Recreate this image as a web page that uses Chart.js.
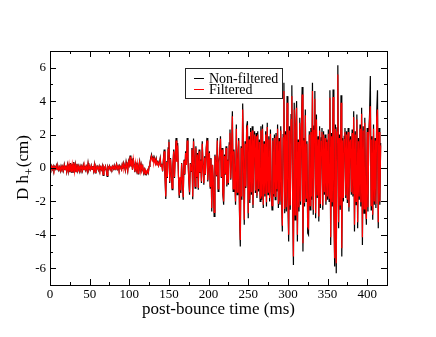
<!DOCTYPE html>
<html>
<head>
<meta charset="utf-8">
<script src="https://cdn.jsdelivr.net/npm/chart.js@4/dist/chart.umd.min.js"></script>
<style>
html,body{margin:0;padding:0;background:#fff;}
#wrap{width:436px;height:337px;position:relative;}
</style>
</head>
<body>
<div id="wrap"><canvas id="c" width="436" height="337"></canvas></div>
<script>
// sampling of the time series (ms)
const startMs = 0;
const stepMs = 1;

const nonFiltered = [
0.05,-0.1,0.12,-0.08,0.1,-0.15,0.08,-0.05,0.15,-0.1,
0.1,-0.12,0.05,-0.18,0.12,-0.05,0.1,-0.15,0.2,-0.1,
0.15,-0.22,0.18,-0.2,0.25,-0.25,0.3,-0.28,0.22,-0.3,
0.35,-0.25,0.2,-0.22,0.25,-0.15,0.1,-0.18,0.12,-0.08,
0.1,-0.15,0.18,-0.1,0.15,-0.12,0.08,-0.2,0.28,-0.12,
0.05,-0.1,0.15,-0.08,0.12,-0.18,0.2,-0.3,0.1,-0.05,
0.08,-0.12,0.1,-0.15,0.05,-0.1,0.12,-0.45,0.05,-0.08,
0.1,-0.15,-0.5,0.08,-0.05,0.12,-0.1,0.05,-0.08,0.1,
-0.05,0.15,-0.1,0.08,0.25,-0.05,0.1,-0.12,0.15,0.05,
-0.1,0.2,-0.05,0.3,0.1,-0.15,0.35,0.05,-0.2,0.4,
0.2,0.75,0.1,0.55,-0.1,0.6,0.2,-0.25,0.35,-0.1,
0.3,-0.35,0.15,0.4,-0.2,0.2,-0.1,0.1,-0.3,-0.1,
-0.4,-0.2,-0.35,-0.15,-0.3,0.1,0.3,0.6,0.8,0.5,
0.65,0.35,0.6,0.3,0.55,0.2,0.45,0.15,0.3,0.6,
0.1,0.25,-0.2,0.5,1.1,-0.5,-1.85,0.4,-0.6,1.2,
1.7,-0.9,0.6,-0.3,-1.3,0.2,1.1,-0.6,0.8,1.8,
0.4,1.5,-0.5,-1.8,-0.6,-1.5,0.3,-0.8,-1.9,0.5,
-0.4,1.0,0.2,1.8,0.6,-0.7,-1.6,0.3,-0.2,1.2,
-1.87,1.77,0.4,-1.2,1.3,-0.6,0.9,-1.3,1.1,-0.3,
0.5,-0.9,1.6,0.2,-1.0,0.7,-0.4,1.2,1.8,-0.8,
0.3,1.0,-1.2,0.6,-2.6,0.2,-0.9,-2.9,0.8,0.3,
-0.5,1.8,-1.4,0.4,0.9,1.9,-0.6,1.2,-1.6,-2.2,
0.8,-0.4,1.3,-1.1,0.5,-1.0,1.5,2.3,-0.7,0.9,
3.4,-1.4,1.1,-0.5,-2.2,2.6,-1.6,0.6,1.8,-2.8,
-4.7,1.3,-1.9,3.86,0.4,-3.4,1.6,-1.2,2.5,2.8,
-3.0,1.9,-2.1,2.4,-1.6,2.5,-2.4,1.3,2.2,-1.5,
2.1,-1.8,2.2,-1.4,1.7,-2.0,2.5,-1.9,2.6,-2.4,
1.6,-1.7,2.2,-2.3,2.7,-1.6,1.9,-2.0,2.3,-1.4,
-2.5,1.8,-1.7,2.0,-1.9,2.1,-1.4,2.6,-2.4,1.8,
-2.2,2.5,-1.6,-3.8,2.0,5.1,-2.7,2.2,-2.6,4.3,
-1.8,-4.4,2.5,-2.5,3.2,4.95,-2.0,-5.8,3.9,-3.1,
2.6,4.0,-4.4,1.7,-2.6,3.0,-2.2,2.2,4.85,-5.0,
1.8,-2.3,3.5,-2.0,1.6,-3.9,-4.0,2.2,-2.5,2.4,
-1.9,5.1,-2.8,2.5,4.6,-3.0,3.2,-1.8,1.9,-3.2,
2.5,-2.4,1.8,2.4,-2.5,2.2,-1.6,2.0,-2.2,1.7,
-1.9,2.3,-2.0,4.65,-4.6,2.1,-2.3,4.7,-2.5,-5.9,
2.6,-6.3,2.4,6.15,-3.6,2.0,-2.5,4.35,-5.3,1.8,
-2.0,1.9,2.4,-1.8,2.2,-2.1,2.4,-2.6,1.5,1.9,
-1.6,2.3,-1.7,3.4,-3.8,2.2,-2.2,3.2,-3.6,1.8,
-1.9,2.6,-2.3,3.6,-4.6,2.5,-2.7,3.0,-1.8,-3.4,
2.4,-2.6,2.0,3.2,5.5,-2.5,1.9,-3.1,2.6,-2.2,
1.8,-2.4,3.3,4.65,-3.6,2.4,-2.2,1.5
];

const filtered = [
0.04,-0.08,0.1,-0.07,0.09,-0.12,0.07,-0.04,0.13,-0.09,
0.09,-0.1,0.05,-0.15,0.1,-0.05,0.09,-0.13,0.17,-0.09,
0.13,-0.2,0.16,-0.18,0.22,-0.22,0.27,-0.25,0.2,-0.27,
0.31,-0.22,0.18,-0.2,0.22,-0.13,0.09,-0.16,0.1,-0.07,
0.09,-0.13,0.16,-0.09,0.13,-0.1,0.07,-0.18,0.25,-0.1,
0.05,-0.09,0.13,-0.07,0.1,-0.16,0.18,-0.27,0.09,-0.04,
0.07,-0.1,0.09,-0.13,0.05,-0.09,0.1,-0.4,0.05,-0.07,
0.09,-0.13,-0.45,0.07,-0.04,0.1,-0.09,0.05,-0.07,0.09,
-0.04,0.13,-0.09,0.07,0.22,-0.04,0.09,-0.1,0.13,0.05,
-0.09,0.18,-0.04,0.27,0.09,-0.13,0.31,0.05,-0.18,0.36,
0.18,0.68,0.09,0.5,-0.09,0.54,0.18,-0.22,0.31,-0.09,
0.27,-0.31,0.13,0.36,-0.18,0.18,-0.09,0.09,-0.27,-0.09,
-0.36,-0.18,-0.31,-0.13,-0.27,0.09,0.27,0.54,0.72,0.45,
0.58,0.31,0.54,0.27,0.5,0.18,0.4,0.13,0.27,0.54,
0.09,0.22,-0.18,0.45,1.0,-0.45,-1.7,0.36,-0.54,1.1,
1.55,-0.8,0.54,-0.27,-1.2,0.18,1.0,-0.54,0.72,1.65,
0.36,1.35,-0.45,-1.65,-0.54,-1.35,0.27,-0.72,-1.75,0.45,
-0.36,0.9,0.18,1.65,0.54,-0.63,-1.45,0.27,-0.18,1.1,
-1.7,1.6,0.36,-1.1,1.2,-0.54,0.8,-1.2,1.0,-0.27,
0.45,-0.8,1.45,0.18,-0.9,0.63,-0.36,1.1,1.65,-0.72,
0.27,0.9,-1.1,0.54,-2.4,0.18,-0.8,-2.65,0.72,0.27,
-0.45,1.65,-1.25,0.36,0.8,1.75,-0.54,1.1,-1.45,-2.0,
0.72,-0.36,1.2,-1.0,0.45,-0.9,1.35,2.1,-0.63,0.8,
3.1,-1.25,1.0,-0.45,-2.0,2.35,-1.45,0.54,1.65,-2.55,
-4.3,1.2,-1.7,3.5,0.36,-3.1,1.45,-1.1,2.25,2.55,
-2.7,1.7,-1.9,2.15,-1.45,2.25,-2.2,1.15,2.0,-1.35,
1.9,-1.65,2.0,-1.25,1.55,-1.8,2.25,-1.7,2.35,-2.2,
1.45,-1.55,2.0,-2.05,2.45,-1.45,1.7,-1.8,2.05,-1.25,
-2.25,1.65,-1.55,1.8,-1.7,1.9,-1.25,2.35,-2.15,1.6,
-2.0,2.25,-1.45,-3.45,1.8,4.6,-2.45,2.0,-2.35,3.9,
-1.6,-4.0,2.25,-2.25,2.9,4.3,-1.8,-5.3,3.5,-2.8,
2.35,3.6,-4.0,1.55,-2.35,2.7,-2.0,2.0,4.4,-4.5,
1.65,-2.1,3.15,-1.8,1.45,-3.5,-3.6,2.0,-2.25,2.15,
-1.7,4.6,-2.5,2.25,4.15,-2.7,2.9,-1.65,1.7,-2.9,
2.25,-2.15,1.6,2.15,-2.25,2.0,-1.45,1.8,-2.0,1.55,
-1.7,2.05,-1.8,4.2,-4.15,1.9,-2.05,4.25,-2.25,-5.4,
2.35,-5.7,2.15,5.6,-3.25,1.8,-2.25,3.9,-4.8,1.65,
-1.8,1.7,2.15,-1.65,2.0,-1.9,2.15,-2.35,1.35,1.7,
-1.45,2.1,-1.55,3.05,-3.4,2.0,-2.0,2.9,-3.25,1.6,
-1.7,2.35,-2.05,3.25,-4.15,2.25,-2.45,2.7,-1.6,-3.05,
2.15,-2.35,1.8,2.9,3.7,-2.25,1.7,-2.8,2.35,-2.0,
1.65,-2.15,3.0,3.5,-3.25,2.15,-2.0,1.35
];

const xTickLabels = [0, 50, 100, 150, 200, 250, 300, 350, 400];
const xMinorTicks = [25, 75, 125, 175, 225, 275, 325, 375, 425];
const yTickLabels = [-6, -4, -2, 0, 2, 4, 6];
const yMinorTicks = [-7, -5, -3, -1, 1, 3, 5, 7];
const seriesNames = ['Non-filtered', 'Filtered'];
const xTitle = 'post-bounce time (ms)';

const toPoints = arr => arr.map((v, i) => ({x: startMs + i * stepMs, y: v}));

const SERIF = '"Liberation Serif","Times New Roman",serif';

const framePlugin = {
  id: 'frame',
  afterDatasetsDraw(chart) {
    const ctx = chart.ctx;
    const a = chart.chartArea;
    const xs = chart.scales.x, ys = chart.scales.y;
    ctx.save();
    ctx.strokeStyle = '#000';
    ctx.lineWidth = 1;
    ctx.strokeRect(Math.round(a.left) + 0.5, Math.round(a.top) + 0.5,
                   Math.round(a.right - a.left), Math.round(a.bottom - a.top));
    const tick = (p, len, horiz) => {
      ctx.beginPath();
      if (horiz) {
        const px = Math.round(p) + 0.5;
        ctx.moveTo(px, a.bottom); ctx.lineTo(px, a.bottom - len);
        ctx.moveTo(px, a.top); ctx.lineTo(px, a.top + len);
      } else {
        const py = Math.round(p) + 0.5;
        ctx.moveTo(a.left, py); ctx.lineTo(a.left + len, py);
        ctx.moveTo(a.right, py); ctx.lineTo(a.right - len, py);
      }
      ctx.stroke();
    };
    xTickLabels.forEach(v => tick(xs.getPixelForValue(v), 6, true));
    xMinorTicks.forEach(v => tick(xs.getPixelForValue(v), 3, true));
    yTickLabels.forEach(v => tick(ys.getPixelForValue(v), 6, false));
    yMinorTicks.forEach(v => tick(ys.getPixelForValue(v), 3, false));

    ctx.fillStyle = '#000';
    ctx.font = '13px ' + SERIF;
    ctx.textAlign = 'center';
    ctx.textBaseline = 'alphabetic';
    xTickLabels.forEach(v => ctx.fillText(String(v), xs.getPixelForValue(v), a.bottom + 13));
    ctx.textAlign = 'right';
    ctx.textBaseline = 'middle';
    yTickLabels.forEach(v => ctx.fillText(String(v), a.left - 4, ys.getPixelForValue(v)));

    ctx.font = '17px ' + SERIF;
    ctx.textAlign = 'center';
    ctx.textBaseline = 'alphabetic';
    ctx.fillText(xTitle, (a.left + a.right) / 2, a.bottom + 29);

    ctx.save();
    ctx.translate(28, (a.top + a.bottom) / 2);
    ctx.rotate(-Math.PI / 2);
    const big = '17px ' + SERIF, small = '12px ' + SERIF;
    ctx.font = big; const w1 = ctx.measureText('D h').width;
    ctx.font = small; const w2 = ctx.measureText('+').width;
    ctx.font = big; const w3 = ctx.measureText('(cm)').width;
    let x0 = -(w1 + w2 + w3) / 2;
    ctx.textAlign = 'left';
    ctx.textBaseline = 'alphabetic';
    ctx.font = big; ctx.fillText('D h', x0, 0);
    ctx.font = small; ctx.fillText('+', x0 + w1, 5);
    ctx.font = big; ctx.fillText('(cm)', x0 + w1 + w2 + 1, 0);
    ctx.restore();

    const lx = 185, ly = 68, lw = 97, lh = 30;
    ctx.fillStyle = '#fff';
    ctx.fillRect(lx, ly, lw, lh);
    ctx.strokeStyle = '#222';
    ctx.lineWidth = 1;
    ctx.strokeRect(lx + 0.5, ly + 0.5, lw, lh);
    const ds = chart.data.datasets;
    ctx.font = '14px ' + SERIF;
    ctx.textAlign = 'left';
    ctx.textBaseline = 'middle';
    ds.forEach((d, i) => {
      const yy = ly + 10 + i * 11;
      ctx.strokeStyle = d.borderColor;
      ctx.beginPath();
      ctx.moveTo(lx + 9, yy + 0.5); ctx.lineTo(lx + 19, yy + 0.5);
      ctx.stroke();
      ctx.fillStyle = '#000';
      ctx.fillText(d.label, lx + 24, yy + 1);
    });
    ctx.restore();
  }
};

new Chart(document.getElementById('c'), {
  type: 'line',
  data: {
    datasets: [
      { label: seriesNames[0], data: toPoints(nonFiltered), borderColor: '#000000',
        borderWidth: 1.2, pointRadius: 0, tension: 0, order: 1, fill: false },
      { label: seriesNames[1], data: toPoints(filtered), borderColor: '#ff0000',
        borderWidth: 1.2, pointRadius: 0, tension: 0, order: 0, fill: false }
    ]
  },
  options: {
    responsive: false,
    animation: false,
    events: [],
    layout: { padding: { left: 50, top: 51, right: 49, bottom: 52 } },
    scales: {
      x: { type: 'linear', min: 0, max: 425, display: false },
      y: { type: 'linear', min: -7, max: 7, display: false }
    },
    plugins: { legend: { display: false }, tooltip: { enabled: false } }
  },
  plugins: [framePlugin]
});
</script>
</body>
</html>
